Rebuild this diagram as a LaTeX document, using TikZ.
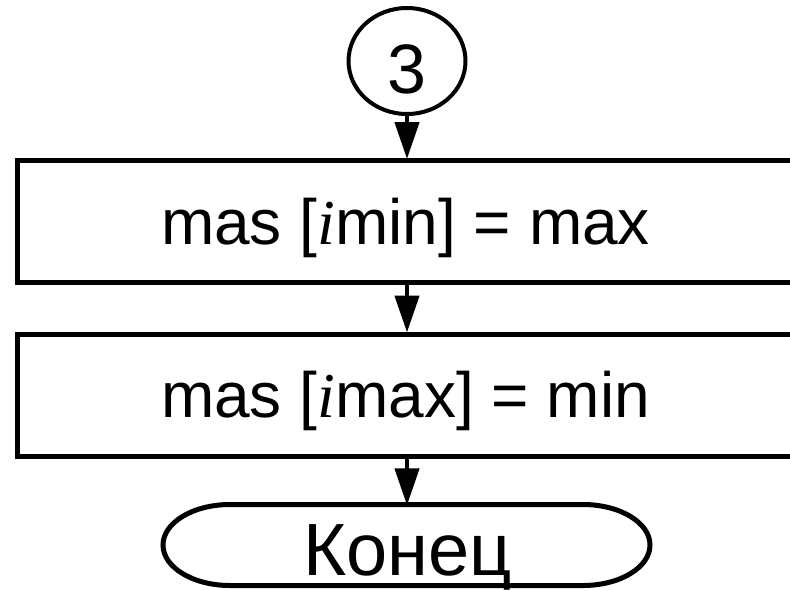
\documentclass[tikz,border=0pt]{standalone}
\usepackage{fontspec}
\setmainfont{Liberation Sans}
\newfontfamily\serifit{Liberation Serif}
\usetikzlibrary{arrows.meta,shapes.geometric}
\tikzset{
  procbox/.style={draw, line width=5pt, inner sep=0pt, minimum width=776pt, minimum height=122pt, font=\fontsize{64}{70}\selectfont, text height=45pt, text depth=0pt},
  conn/.style={line width=4.5pt, -{Triangle[width=24pt,length=37pt]}, shorten >=-1pt}
}
\newcommand{\iv}{{\serifit\itshape i}}
\begin{document}
\begin{tikzpicture}[x=1pt,y=-1pt]
\useasboundingbox (0,0) rectangle (790,590);
\fill[white] (0,0) rectangle (790,590);
\node[draw, ellipse, line width=4pt, inner sep=0pt, minimum width=117pt, minimum height=106pt, font=\fontsize{70}{76}\selectfont, text height=64pt, text depth=0pt] (c3) at (407,61) {3};
\node[procbox] (r1) at (405.5,221.5) {mas [\iv min] = max};
\node[procbox] (r2) at (405.5,395) {mas [\iv max] = min};
\node[inner sep=0pt, minimum width=484pt, minimum height=81pt, font=\fontsize{74}{80}\selectfont, text height=60pt, text depth=0pt] (end) at (407.5,545) {Конец};
\draw[line width=5pt] (230,504.5) -- (583,504.5) arc[start angle=-90, end angle=90, x radius=67, y radius=40.5] -- (230,585.5) arc[start angle=90, end angle=270, x radius=67, y radius=40.5] -- cycle;
\draw[conn] (c3.south) -- (c3.south |- r1.north);
\draw[conn] (c3.south |- r1.south) -- (c3.south |- r2.north);
\draw[conn] (c3.south |- r2.south) -- (c3.south |- end.north);
\end{tikzpicture}
\end{document}
